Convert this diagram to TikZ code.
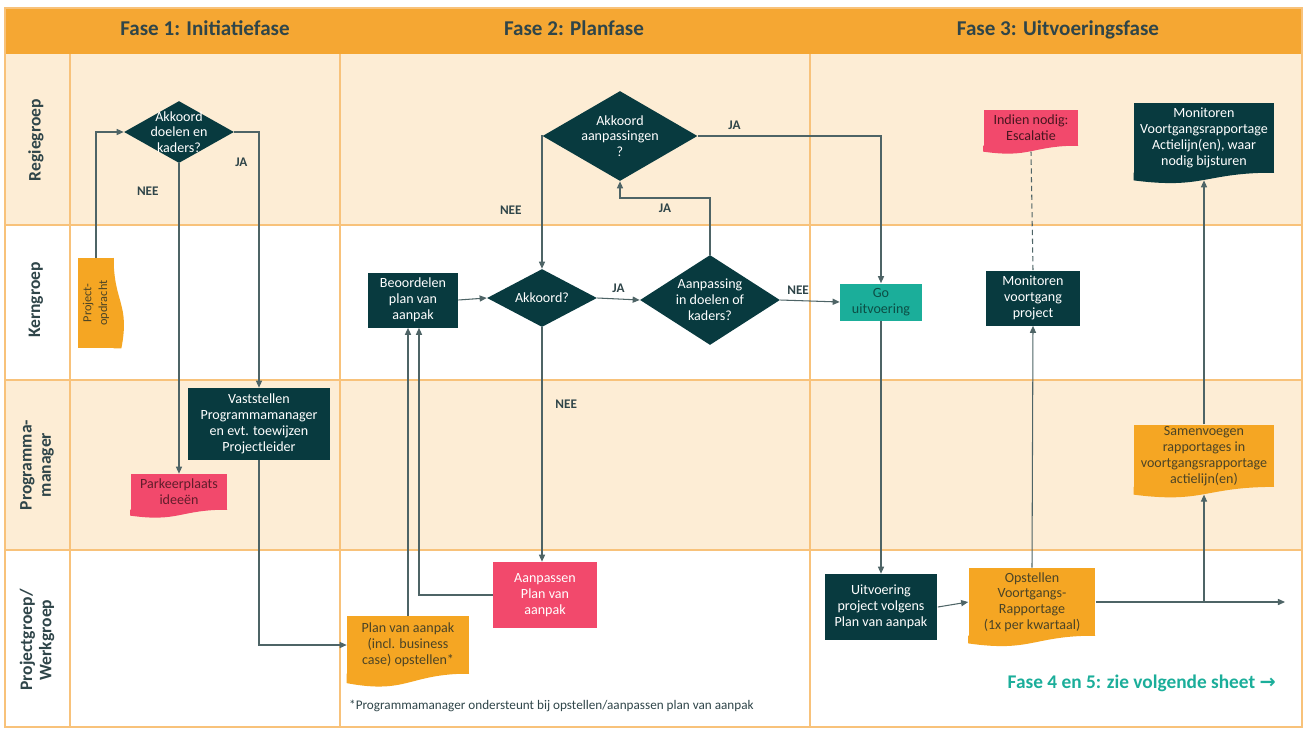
\documentclass[tikz,border=0pt]{standalone}
\usepackage{fontspec}
\setmainfont{Carlito}
\newfontfamily\pijlfont{DejaVu Sans}
\usetikzlibrary{shapes.geometric,arrows.meta,calc}

\definecolor{kop}{HTML}{F5A733}
\definecolor{licht}{HTML}{FDEDD5}
\definecolor{lijn}{HTML}{F8C27A}
\definecolor{donker}{HTML}{083A3F}
\definecolor{oranje}{HTML}{F5A623}
\definecolor{roze}{HTML}{F2496C}
\definecolor{groen}{HTML}{1BAE9A}
\definecolor{pijlkleur}{HTML}{4E6466}
\definecolor{tekst}{HTML}{2F4549}
\definecolor{bruin}{HTML}{4B4426}

\newcommand\klein{\fontsize{8}{9}\selectfont}
% golvende onderkant van een document-blok
\newcommand\golf[3]{\fill[#2] ([yshift=0.4pt]#1.south east) .. controls ([yshift=0.4pt]#1.south) and ([yshift=-2.3*#3]#1.south) .. ([yshift=-#3]#1.south west) -- ([yshift=0.4pt]#1.south west) -- cycle;}

\tikzset{
  fase/.style={font=\bfseries\fontsize{12}{14}\selectfont, text=tekst, anchor=base},
  baan/.style={font=\bfseries\fontsize{10}{11}\selectfont, text=tekst, rotate=90, align=center},
  blok/.style={rectangle, inner sep=1pt, align=center, font=\klein},
  ruit/.style={diamond, fill=donker, inner sep=0pt},
  ruittekst/.style={text=white, align=center, font=\klein, inner sep=0pt},
  jn/.style={font=\bfseries\fontsize{7.5}{9}\selectfont, text=tekst},
  pijl/.style={draw=pijlkleur, line width=0.6pt, -{Triangle[length=4pt,width=3.5pt]}},
  stippel/.style={draw=pijlkleur, line width=0.6pt, densely dashed}
}

\begin{document}
\begin{tikzpicture}[x=0.02cm,y=-0.02cm]
\useasboundingbox (0,0) rectangle (1306,731);
\fill[white] (0,0) rectangle (1306,731);

% banen en fasen
\fill[licht] (5,54) rectangle (1302,225);
\fill[licht] (5,380) rectangle (1302,550);
\fill[kop] (5,8) rectangle (1302,54);
\draw[lijn, line width=1.2pt] (5,225) -- (1302,225) (5,380) -- (1302,380) (5,550) -- (1302,550);
\draw[lijn, line width=1.2pt] (70,54) -- (70,727) (340,54) -- (340,727) (810,54) -- (810,727);
\draw[lijn, line width=0.8pt] (5,8) rectangle (1302,727);

\node[fase] (f1) at (205,35) {Fase 1: Initiatiefase};
\node[fase] (f2) at (574,35) {Fase 2: Planfase};
\node[fase] (f3) at (1058,35) {Fase 3: Uitvoeringsfase};

\node[baan] (regie) at (36,140) {Regiegroep};
\node[baan] (kern) at (36,300) {Kerngroep};
\node[baan] (pm) at (37,465) {Programma-\\manager};
\node[baan] (pg) at (37,640) {Projectgroep/\\Werkgroep};

% Fase 1
\node[blok, fill=oranje, minimum width=0.72cm, minimum height=1.8cm, text=bruin] (popdr) at (96,303)
  {\rotatebox{90}{\fontsize{7}{8}\selectfont\shortstack{Project-\\opdracht}}};
\fill[oranje] ([xshift=-0.4pt]popdr.north east) .. controls ([xshift=-0.4pt]popdr.east) and ([xshift=9pt]popdr.east) .. ([xshift=4pt]popdr.south east) -- ([xshift=-0.4pt]popdr.south east) -- cycle;

\node[ruit, minimum width=2.2cm, minimum height=1.24cm,
  label={[ruittekst]center:Akkoord\\doelen en\\kaders?}] (akk1) at (179,132) {};

\node[blok, fill=donker, text=white, minimum width=2.84cm, minimum height=1.44cm] (vast) at (259,424)
  {Vaststellen\\Programmamanager\\en evt. toewijzen\\Projectleider};

\node[blok, fill=roze, text=roze!40!black, minimum width=1.94cm, minimum height=0.72cm] (parkeer) at (179,492)
  {Parkeerplaats\\ideeën};
\golf{parkeer}{roze}{3pt}

% Fase 2
\node[blok, fill=oranje, text=bruin, minimum width=2.44cm, minimum height=1.16cm] (plan) at (408,645)
  {Plan van aanpak\\(incl. business\\case) opstellen*};
\golf{plan}{oranje}{5pt}

\node[blok, fill=donker, text=white, minimum width=1.8cm, minimum height=1.1cm] (beoord) at (413,300)
  {Beoordelen\\plan van\\aanpak};

\node[ruit, minimum width=2.2cm, minimum height=1.16cm,
  label={[ruittekst]center:Akkoord?}] (akk2) at (542,298) {};

\node[ruit, minimum width=2.8cm, minimum height=1.8cm,
  label={[ruittekst]center:Aanpassing\\in doelen of\\kaders?}] (aanpas) at (710,300) {};

\node[ruit, minimum width=3.1cm, minimum height=1.8cm,
  label={[ruittekst]center:Akkoord\\aanpassingen\\?}] (akk3) at (620,136) {};

\node[blok, fill=roze, text=white, minimum width=2.08cm, minimum height=1.32cm] (aanp) at (545,595)
  {Aanpassen\\Plan van\\aanpak};

\node[anchor=west, font=\fontsize{7.5}{9}\selectfont, text=tekst] (voetnoot) at (343,706)
  {*Programmamanager ondersteunt bij opstellen/aanpassen plan van aanpak};

% Fase 3
\node[blok, fill=groen, text=groen!45!black, minimum width=1.64cm, minimum height=0.74cm] (go) at (881,302)
  {Go\\uitvoering};

\node[blok, fill=donker, text=white, minimum width=2.26cm, minimum height=1.32cm] (uitv) at (881,607)
  {Uitvoering\\project volgens\\Plan van aanpak};

\node[blok, fill=oranje, text=bruin, minimum width=2.54cm, minimum height=1.36cm] (opst) at (1032,602)
  {Opstellen\\Voortgangs-\\Rapportage\\(1x per kwartaal)};
\golf{opst}{oranje}{4pt}

\node[blok, fill=donker, text=white, minimum width=1.9cm, minimum height=1.1cm] (monvp) at (1033,298)
  {Monitoren\\voortgang\\project};

\node[blok, fill=roze, text=roze!30!black, minimum width=1.9cm, minimum height=0.72cm] (indien) at (1031,128)
  {Indien nodig:\\Escalatie};
\golf{indien}{roze}{3pt}

\node[blok, fill=oranje, text=bruin, minimum width=2.8cm, minimum height=1.16cm] (samen) at (1204,456)
  {Samenvoegen\\rapportages in\\voortgangsrapportage\\actielijn(en)};
\golf{samen}{oranje}{4pt}

\node[blok, fill=donker, text=white, minimum width=2.8cm, minimum height=1.4cm] (monvg) at (1204,138)
  {Monitoren\\Voortgangsrapportage\\Actielijn(en), waar\\nodig bijsturen};
\golf{monvg}{donker}{4pt}

\node[anchor=east, text=groen, font=\bfseries\fontsize{11}{13}\selectfont] (verwijs) at (1282,683)
  {Fase 4 en 5: zie volgende sheet {\pijlfont →}};

% verbindingen
\draw[pijl] (popdr.north) |- (akk1.west);
\draw[pijl] (akk1.east) -| (vast.north) node[jn, pos=0.56, left=3pt] {JA};
\draw[pijl] (akk1.south) -- (parkeer.north) node[jn, pos=0.09, left=8pt] {NEE};
\draw[pijl] (vast.south) |- (plan.west);
\draw[pijl] (plan.north) -- (plan.north |- beoord.south);
\draw[pijl] (aanp.west) -| ([xshift=0.12cm]beoord.south);
\draw[pijl] (beoord.east) -- (akk2.west);
\draw[pijl] (akk2.east) -- (aanpas.west) node[jn, midway, above] {JA};
\draw[pijl] (akk2.south) -- (akk2.south |- aanp.north) node[jn, pos=0.33, right=4pt] {NEE};
\coordinate (knik) at (710,198);
\draw[pijl] (aanpas.north) -- (knik) -| (akk3.south) node[jn, pos=0.25, below] {JA};
\draw[pijl] (akk3.west) -| (akk2.north) node[jn, pos=0.78, left=8pt] {NEE};
\draw[pijl] (akk3.east) -| (go.north) node[jn, pos=0.1, above] {JA};
\draw[pijl] (aanpas.east) -- (go.west) node[jn, pos=0.3, above] {NEE};
\draw[pijl] (go.south) -- (uitv.north);
\draw[pijl] (uitv.east) -- (opst.west);
\draw[pijl] (opst.north) -- (monvp.south);
\draw[stippel] (monvp.north) -- ([yshift=-3pt]indien.south);
\coordinate (verder) at (1285,605);
\draw[pijl] (opst.east) -- (opst.east -| verder);
\draw[pijl] (opst.east -| samen.south) -- ([yshift=-4pt]samen.south);
\draw[pijl] (samen.north) -- ([yshift=-4pt]monvg.south);

\end{tikzpicture}
\end{document}
